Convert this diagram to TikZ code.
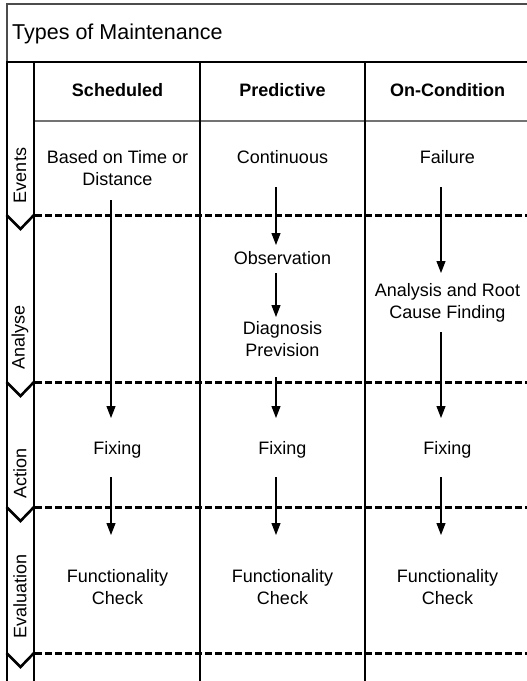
\documentclass[tikz,border=0pt]{standalone}
\usepackage{fontspec}
\setmainfont{Liberation Sans}
\usetikzlibrary{arrows.meta}
\begin{document}
\begin{tikzpicture}[x=1pt,y=-1pt,
  txt/.style={font=\fontsize{18}{22.5}\selectfont, align=center, inner sep=0pt, text=black},
  hdr/.style={font=\fontsize{18}{22}\selectfont\bfseries, inner sep=0pt, text=black},
  lanelbl/.style={font=\fontsize{18}{22}\selectfont, rotate=90, inner sep=0pt, text=black},
  ttl/.style={font=\fontsize{21.5}{25}\selectfont, inner sep=0pt, anchor=west, text=black},
  arr/.style={-{Triangle[length=12pt,width=9pt]}, line width=1.1pt},
  sepline/.style={line width=3pt, dash pattern=on 6.5pt off 3.5pt},
  chev/.style={line width=2.6pt, line join=miter},
  divider/.style={line width=1.4pt},
  thinframe/.style={line width=1.3pt, draw=black!70}]
\useasboundingbox (0,0) rectangle (527,681);
\begin{scope}
\clip (0,0) rectangle (527,681);
% title box
\draw[thinframe] (7,61) -- (7,4) -- (540,4);
\node[ttl] (title) at (12,33.5) {Types of Maintenance};
\draw[line width=2.2pt] (6,62) -- (540,62);
% header bottom
\draw[line width=2.2pt, draw=black!55] (34,121) -- (540,121);
% lane column
\draw[line width=2.6pt] (7,62) -- (7,690);
\draw[line width=1.4pt] (34,62) -- (34,690);
% column dividers
\draw[divider] (200,62) -- (200,690);
\draw[divider] (365,62) -- (365,690);
% lane separators
\foreach \yy in {215,382,507,653}{
  \draw[sepline] (35,\yy) -- (540,\yy);
  \draw[chev] (6.5,\yy) -- (20.5,\yy+14) -- (34,\yy);
}
% lane labels
\node[lanelbl] (lev) at (20,175.5) {Events};
\node[lanelbl] (lan) at (20,337.5) {Analyse};
\node[lanelbl] (lac) at (20,473.5) {Action};
\node[lanelbl] (lval) at (20,596) {Evaluation};
% headers
\node[hdr] (h1) at (117.5,90.5) {Scheduled};
\node[hdr] (h2) at (282.5,90.5) {Predictive};
\node[hdr] (h3) at (447.5,90.5) {On-Condition};
% Scheduled column
\node[txt] (ev1) at (117.5,168) {Based on Time or\\Distance};
\node[txt] (fix1) at (117.5,450) {Fixing};
\node[txt] (chk1) at (117.5,587) {Functionality\\Check};
% Predictive column
\node[txt] (ev2) at (282.5,157.5) {Continuous};
\node[txt] (obs) at (282.5,258.5) {Observation};
\node[txt] (diag) at (282.5,339) {Diagnosis\\Prevision};
\node[txt] (fix2) at (282.5,450) {Fixing};
\node[txt] (chk2) at (282.5,587) {Functionality\\Check};
% On-Condition column
\node[txt] (ev3) at (447.5,157.5) {Failure};
\node[txt] (ana) at (447.5,303) {Analysis and Root\\Cause Finding};
\node[txt] (fix3) at (447.5,450) {Fixing};
\node[txt] (chk3) at (447.5,587) {Functionality\\Check};
% arrows
\draw[arr] ([shift={(-6.5,32)}]ev1.center) -- ([shift={(-6.5,-32)}]fix1.center);
\draw[arr] ([shift={(-6.5,27)}]fix1.center) -- ([shift={(-6.5,-52)}]chk1.center);
\draw[arr] ([shift={(-6.5,29.5)}]ev2.center) -- ([shift={(-6.5,-13.5)}]obs.center);
\draw[arr] ([shift={(-6.5,14.5)}]obs.center) -- ([shift={(-6.5,-22)}]diag.center);
\draw[arr] ([shift={(-6.5,38)}]diag.center) -- ([shift={(-6.5,-32)}]fix2.center);
\draw[arr] ([shift={(-6.5,27)}]fix2.center) -- ([shift={(-6.5,-52)}]chk2.center);
\draw[arr] ([shift={(-6.5,29.5)}]ev3.center) -- ([shift={(-6.5,-30)}]ana.center);
\draw[arr] ([shift={(-6.5,29)}]ana.center) -- ([shift={(-6.5,-32)}]fix3.center);
\draw[arr] ([shift={(-6.5,27)}]fix3.center) -- ([shift={(-6.5,-52)}]chk3.center);
\end{scope}
\end{tikzpicture}
\end{document}
